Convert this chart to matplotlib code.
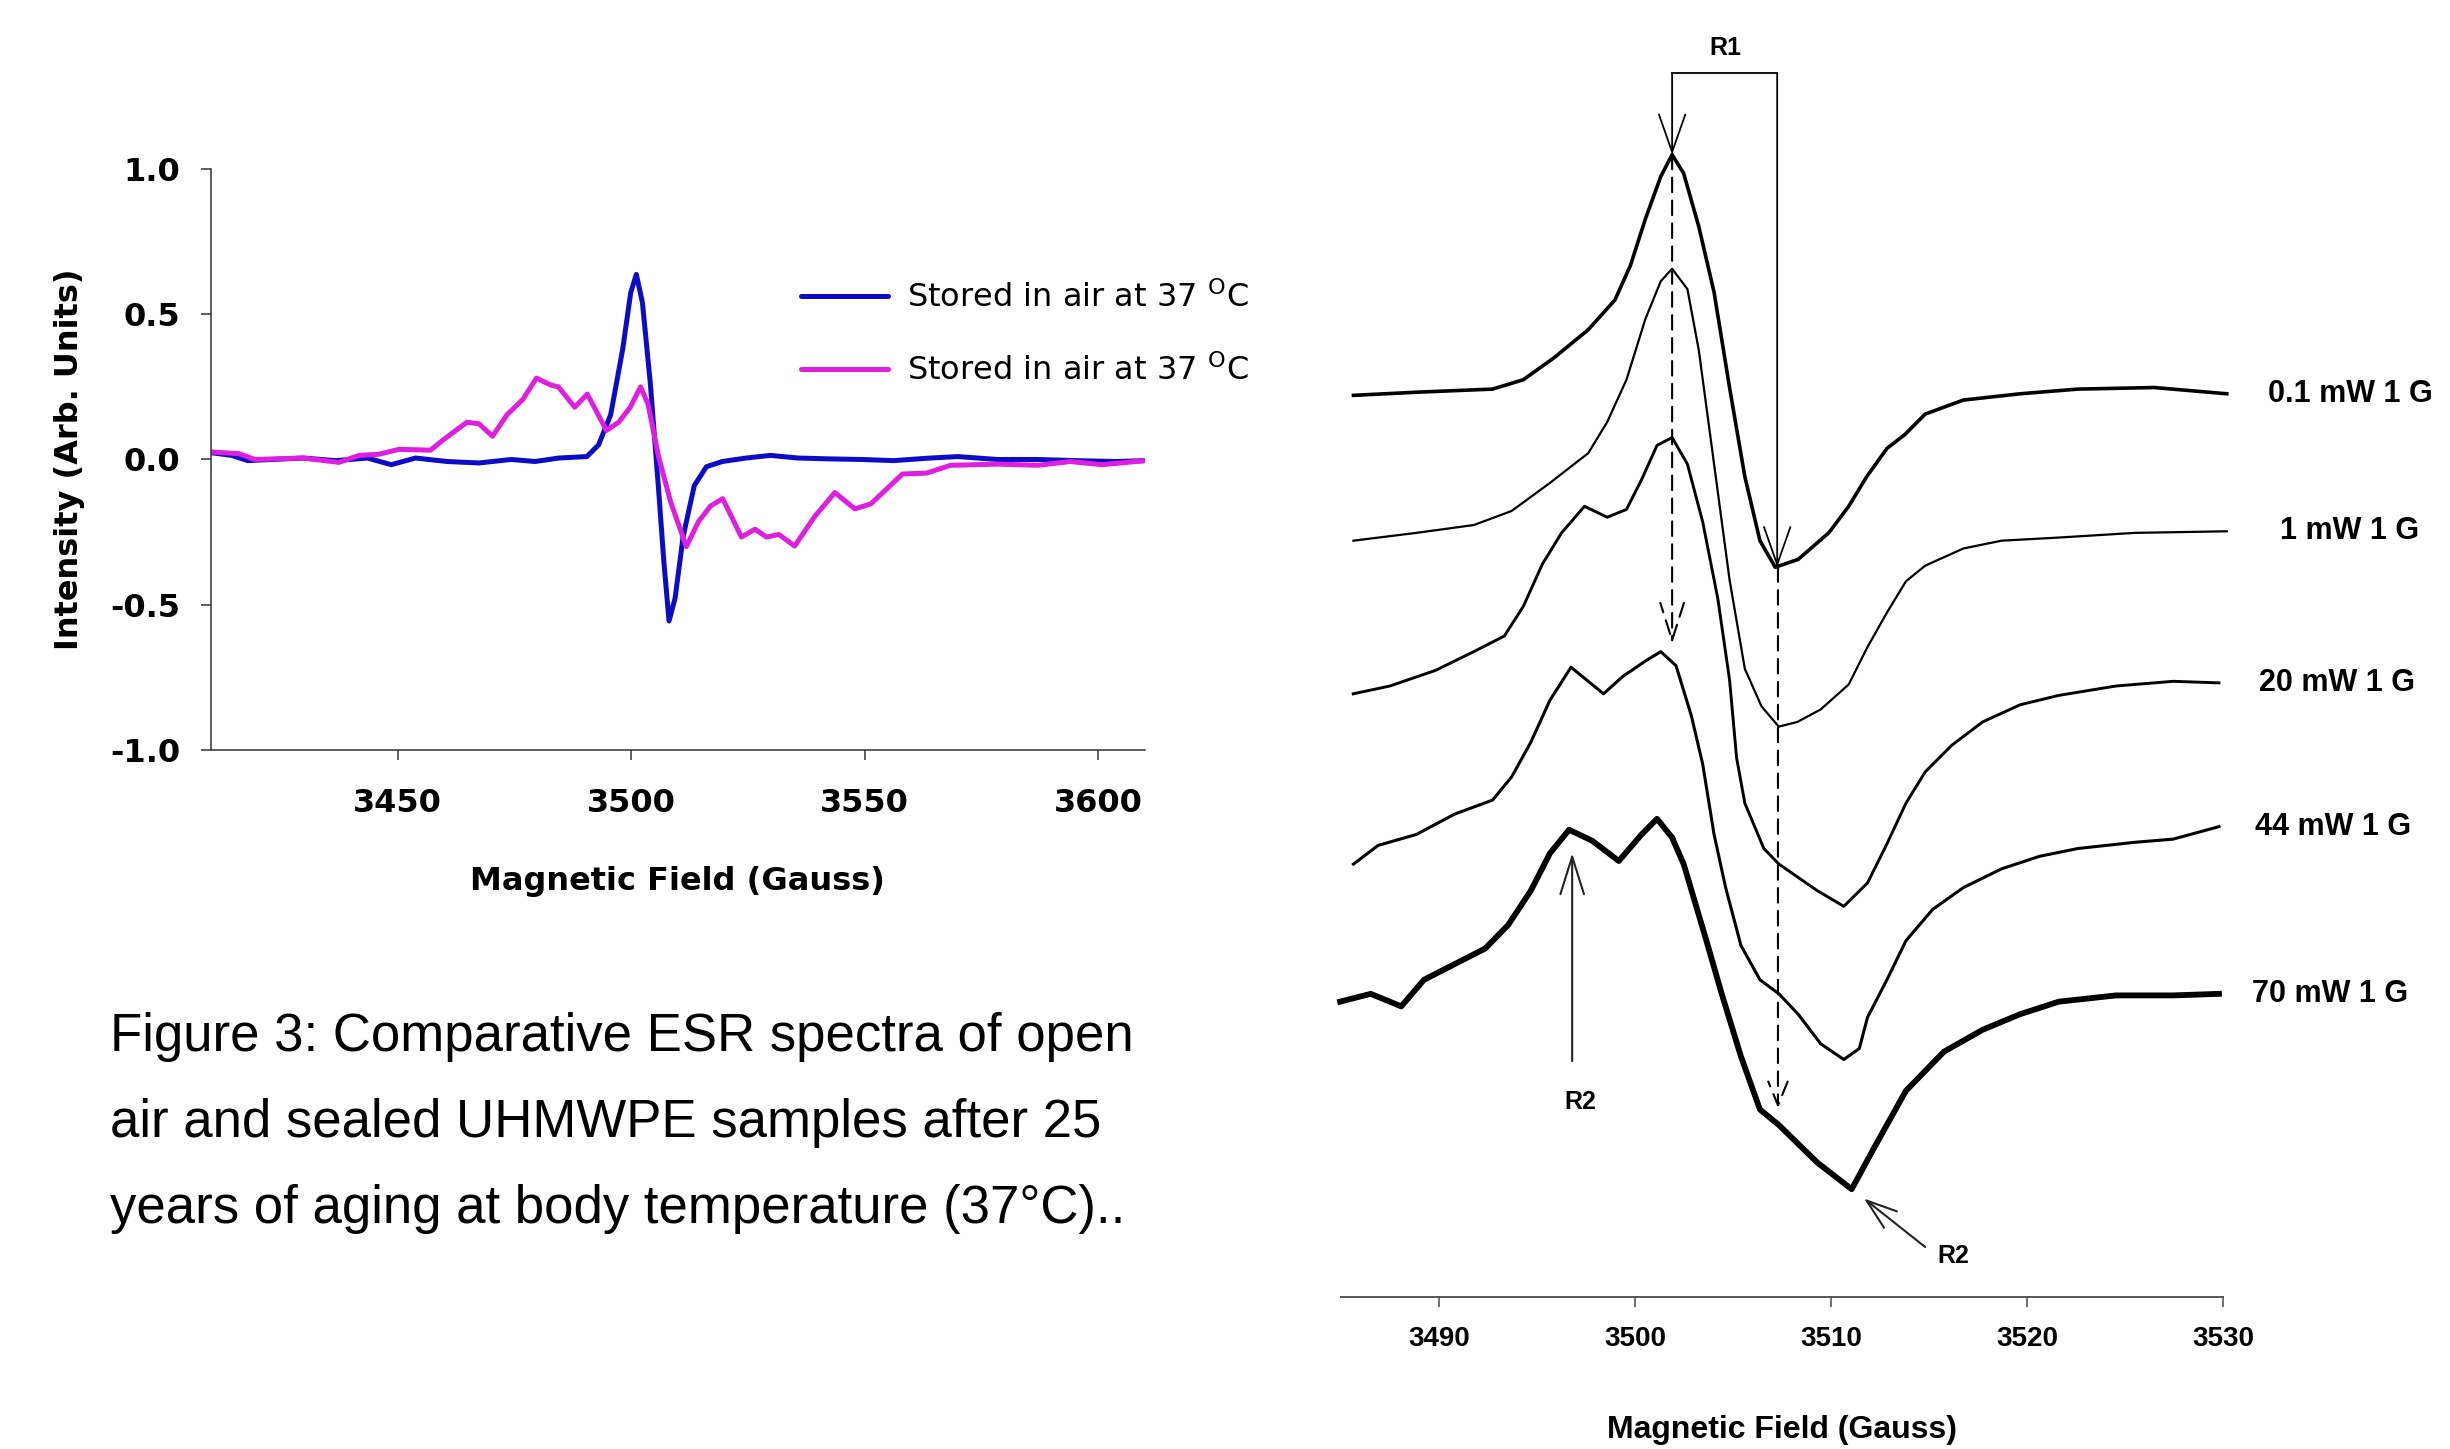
import matplotlib
matplotlib.use('Agg')
import matplotlib.pyplot as plt

plt.rcParams['axes.unicode_minus'] = False

# ---- left panel: open air vs sealed, field (G) / intensity (arb. units)
blue_field = [3410.2, 3414.5, 3417.9, 3423.0, 3429.8, 3436.7, 3443.5, 3448.6, 3453.8, 3460.6,
              3467.4, 3474.3, 3479.4, 3484.5, 3490.5, 3493.0, 3495.6, 3498.2, 3499.9, 3501.1,
              3502.4, 3504.1, 3505.8, 3507.0, 3508.1, 3509.4, 3511.1, 3513.5, 3516.1, 3519.5,
              3524.6, 3529.8, 3535.7, 3542.6, 3549.4, 3556.2, 3563.1, 3569.9, 3578.4, 3587.0,
              3595.5, 3604.0, 3610.0]
blue_int = [0.023, 0.014, -0.004, 0.0, 0.005, -0.004, 0.005, -0.018, 0.005, -0.007,
            -0.012, 0.0, -0.007, 0.005, 0.01, 0.05, 0.154, 0.382, 0.575, 0.637,
            0.54, 0.26, -0.09, -0.354, -0.556, -0.477, -0.267, -0.09, -0.025, -0.007,
            0.005, 0.014, 0.005, 0.002, 0.0, -0.004, 0.004, 0.01, 0.0, 0.0,
            -0.004, -0.007, -0.004]

mag_field = [3410.0, 3416.0, 3419.4, 3429.7, 3437.4, 3441.7, 3446.0, 3450.3, 3457.0, 3459.7,
             3464.8, 3467.4, 3470.3, 3473.4, 3476.8, 3479.7, 3482.8, 3484.4, 3487.9, 3490.6,
             3494.7, 3497.3, 3499.8, 3502.0, 3503.6, 3505.8, 3508.4, 3511.8, 3514.4, 3517.0,
             3519.6, 3523.6, 3526.5, 3529.0, 3531.6, 3535.0, 3539.3, 3543.6, 3547.9, 3551.3,
             3558.1, 3563.2, 3568.4, 3578.6, 3587.2, 3594.0, 3600.9, 3610.0]
mag_int = [0.026, 0.02, 0.0, 0.005, -0.01, 0.014, 0.018, 0.035, 0.032, 0.067,
           0.128, 0.123, 0.08, 0.154, 0.207, 0.28, 0.256, 0.25, 0.18, 0.225,
           0.10, 0.128, 0.18, 0.25, 0.19, 0.014, -0.144, -0.30, -0.214, -0.16,
           -0.135, -0.267, -0.24, -0.267, -0.258, -0.298, -0.196, -0.114, -0.17, -0.153,
           -0.05, -0.047, -0.02, -0.016, -0.02, -0.007, -0.018, -0.004]

legend_labels = [r'Stored in air at 37 $^{\mathrm{O}}$C', r'Stored in air at 37 $^{\mathrm{O}}$C']
left_xticks = [3450, 3500, 3550, 3600]
left_yticks = [-1.0, -0.5, 0.0, 0.5, 1.0]
left_yticklabels = ['-1.0', '-0.5', '0.0', '0.5', '1.0']

caption = ['Figure 3: Comparative ESR spectra of open',
           'air and sealed UHMWPE samples after 25',
           'years of aging at body temperature (37°C)..']

# ---- right panel: microwave power series (stacked, arb. units)
f_01 = [3485.64, 3488.85, 3492.74, 3494.31, 3495.87, 3497.62, 3498.98, 3499.77, 3500.54, 3501.32,
        3501.90, 3502.49, 3503.26, 3504.04, 3504.83, 3505.61, 3506.38, 3507.16, 3508.33, 3509.89,
        3510.91, 3511.83, 3512.86, 3513.78, 3514.81, 3516.76, 3519.66, 3522.60, 3526.50, 3530.20]
s_01 = [57.7, 57.9, 58.1, 58.7, 60.1, 61.9, 63.8, 66.0, 69.0, 71.7,
        73.1, 71.9, 68.5, 64.3, 58.2, 52.5, 48.4, 46.7, 47.2, 48.9,
        50.6, 52.5, 54.3, 55.2, 56.5, 57.4, 57.8, 58.1, 58.2, 57.8]

f_1 = [3485.64, 3488.85, 3491.78, 3493.71, 3495.67, 3497.62, 3498.59, 3499.57, 3500.54, 3501.32,
       3501.90, 3502.68, 3503.26, 3504.04, 3504.83, 3505.61, 3506.46, 3507.34, 3508.29, 3509.48,
       3510.91, 3511.87, 3512.86, 3513.83, 3514.81, 3516.76, 3518.71, 3521.63, 3525.52, 3530.20]
s_1 = [48.4, 48.9, 49.4, 50.3, 52.1, 54.0, 56.0, 58.7, 62.6, 65.0,
       65.8, 64.5, 60.6, 53.3, 45.9, 40.2, 37.8, 36.5, 36.8, 37.6,
       39.2, 41.6, 43.8, 45.8, 46.8, 47.9, 48.4, 48.6, 48.9, 49.0]

f_20 = [3485.63, 3487.50, 3489.83, 3491.78, 3493.34, 3494.31, 3495.28, 3496.26, 3497.43, 3498.59,
        3499.57, 3500.34, 3501.13, 3501.90, 3502.68, 3503.46, 3504.23, 3504.83, 3505.19, 3505.61,
        3506.58, 3507.35, 3509.31, 3510.66, 3511.87, 3512.86, 3513.83, 3514.81, 3516.16, 3517.74,
        3519.66, 3521.63, 3524.55, 3527.46, 3529.80]
s_20 = [38.6, 39.1, 40.1, 41.3, 42.3, 44.2, 46.9, 48.9, 50.6, 49.9,
        50.4, 52.3, 54.5, 55.0, 53.3, 49.6, 44.7, 39.5, 34.5, 31.6,
        28.7, 27.7, 26.0, 25.0, 26.5, 29.0, 31.6, 33.6, 35.3, 36.8,
        37.9, 38.5, 39.1, 39.4, 39.3]

f_44 = [3485.64, 3486.90, 3488.85, 3490.80, 3492.74, 3493.72, 3494.69, 3495.67, 3496.74, 3497.62,
        3498.40, 3499.37, 3500.54, 3501.32, 3502.10, 3502.88, 3503.46, 3504.04, 3504.63, 3505.41,
        3506.38, 3507.35, 3508.33, 3509.48, 3510.66, 3511.45, 3511.87, 3512.86, 3513.83, 3515.19,
        3516.76, 3518.71, 3520.64, 3522.60, 3525.52, 3527.46, 3529.80]
s_44 = [27.7, 28.9, 29.6, 30.9, 31.8, 33.3, 35.5, 38.2, 40.3, 39.4,
        38.6, 39.7, 40.7, 41.3, 40.4, 37.2, 34.1, 29.6, 26.2, 22.5,
        20.3, 19.4, 18.1, 16.2, 15.2, 15.9, 17.9, 20.3, 22.8, 24.8,
        26.2, 27.4, 28.2, 28.7, 29.1, 29.3, 30.1]

f_70 = [3484.96, 3486.52, 3488.08, 3489.24, 3490.80, 3492.36, 3493.53, 3494.69, 3495.67, 3496.64,
        3497.82, 3499.18, 3500.34, 3501.13, 3501.90, 3502.49, 3503.65, 3504.43, 3505.41, 3506.38,
        3507.35, 3509.31, 3511.06, 3512.23, 3513.83, 3515.77, 3517.74, 3519.66, 3521.63, 3524.55,
        3527.46, 3529.80]
s_70 = [18.9, 19.4, 18.6, 20.3, 21.3, 22.3, 23.8, 26.0, 28.4, 29.9,
        29.2, 27.9, 29.6, 30.6, 29.4, 27.7, 22.8, 19.4, 15.4, 12.0,
        11.0, 8.6, 6.9, 9.6, 13.2, 15.7, 17.1, 18.1, 18.9, 19.3,
        19.3, 19.4]

power_labels = ['0.1 mW 1 G', '1 mW 1 G', '20 mW 1 G', '44 mW 1 G', '70 mW 1 G']
right_xticks = [3490, 3500, 3510, 3520, 3530]

fig = plt.figure(figsize=(24.5, 14.49), dpi=100)

# ================= left panel
ax = fig.add_axes([0.0861, 0.4824, 0.3812, 0.4010])
ax.plot(blue_field, blue_int, color='#0c0cc8', lw=3.6, label=legend_labels[0], solid_capstyle='round')
ax.plot(mag_field, mag_int, color='#e01ee0', lw=3.6, label=legend_labels[1], solid_capstyle='round')
ax.set_xlim(3410, 3610)
ax.set_ylim(-1.0, 1.0)
for s in ['top', 'right']:
    ax.spines[s].set_visible(False)
for s in ['left', 'bottom']:
    ax.spines[s].set_color('#333333')
    ax.spines[s].set_linewidth(1.1)
ax.set_xticks(left_xticks, [str(t) for t in left_xticks], fontweight='bold', fontsize=23)
ax.set_yticks(left_yticks, left_yticklabels, fontweight='bold', fontsize=23)
ax.tick_params(axis='x', direction='out', length=7, width=1.1, color='#333333', pad=20)
ax.tick_params(axis='y', direction='out', length=7, width=1.1, color='#333333', pad=15)
ax.set_xlabel('Magnetic Field (Gauss)', fontsize=23, fontweight='bold')
ax.xaxis.set_label_coords(0.5, -0.2)
ax.set_ylabel('Intensity (Arb. Units)', fontsize=23, fontweight='bold')
ax.yaxis.set_label_coords(-0.135, 0.5)
ax.legend(loc='center left', bbox_to_anchor=(0.3271, 0.7694), bbox_transform=fig.transFigure,
          frameon=False, fontsize=23, handlelength=2.7, handletextpad=0.6,
          labelspacing=1.25, borderpad=0, borderaxespad=0)

# no narrow face installed, so the caption is set a bit smaller to keep the line width
for i, line in enumerate(caption):
    fig.text(0.0447, 1 - (1051 + i * 86) / 1449, line, fontsize=38, va='baseline',
             family=['Liberation Sans Narrow', 'Liberation Sans'])

# ================= right panel
bold_sans = dict(family='Liberation Sans', fontweight='bold')
ax2 = fig.add_axes([0.5473, 0.1049, 0.36, 0.8951])
traces = [(f_01, s_01, 2.6), (f_1, s_1, 1.6), (f_20, s_20, 2.1), (f_44, s_44, 2.2), (f_70, s_70, 4.2)]
label_x = [3532.3, 3532.9, 3531.85, 3531.65, 3531.5]
for (fx, sy, lw), lab, lx in zip(traces, power_labels, label_x):
    ax2.plot(fx, sy, color='black', lw=lw, clip_on=False)
    ax2.text(lx, sy[-1], lab, fontsize=22, va='center', ha='left', clip_on=False, **bold_sans)

ax2.set_xlim(3485, 3530)
ax2.set_ylim(0, 83)
for s in ['top', 'right', 'left']:
    ax2.spines[s].set_visible(False)
ax2.spines['bottom'].set_color('#555555')
ax2.spines['bottom'].set_linewidth(1.4)
ax2.set_yticks([])
ax2.set_xticks(right_xticks, [str(t) for t in right_xticks], fontsize=20, **bold_sans)
ax2.tick_params(axis='x', direction='out', length=7, width=1.2, color='#555555', pad=14)
ax2.set_xlabel('Magnetic Field (Gauss)', fontsize=23, **bold_sans)
ax2.xaxis.set_label_coords(0.5, -0.091)

# R1 bracket between peak and trough of the 0.1 mW trace
ax2.plot([3501.9, 3507.26], [78.3, 78.3], color='black', lw=1.3, clip_on=False)
ax2.annotate('', xy=(3501.9, 73.1), xytext=(3501.9, 78.3),
             arrowprops=dict(arrowstyle='->,head_length=2.7,head_width=0.95', color='black',
                             lw=1.3, shrinkA=0, shrinkB=0))
ax2.annotate('', xy=(3507.26, 46.7), xytext=(3507.26, 78.3),
             arrowprops=dict(arrowstyle='->,head_length=2.7,head_width=0.95', color='black',
                             lw=1.3, shrinkA=0, shrinkB=0))
ax2.text(3504.6, 79.9, 'R1', fontsize=18, ha='center', va='center', **bold_sans)

# dashed guides
ax2.annotate('', xy=(3501.9, 41.8), xytext=(3501.9, 73.1),
             arrowprops=dict(arrowstyle='->,head_length=2.7,head_width=0.85', color='black',
                             lw=1.5, linestyle=(0, (7, 4)), shrinkA=0, shrinkB=0))
ax2.annotate('', xy=(3507.3, 12.1), xytext=(3507.3, 46.7),
             arrowprops=dict(arrowstyle='->,head_length=1.7,head_width=0.7', color='black',
                             lw=1.5, linestyle=(0, (7, 4)), shrinkA=0, shrinkB=0))

# R2 markers
ax2.annotate('', xy=(3496.8, 28.4), xytext=(3496.8, 15.1),
             arrowprops=dict(arrowstyle='->,head_length=2.7,head_width=0.85', color='#222222',
                             lw=1.5, shrinkA=0, shrinkB=0))
ax2.text(3497.2, 12.5, 'R2', fontsize=18, ha='center', va='center', **bold_sans)
ax2.annotate('', xy=(3511.69, 6.3), xytext=(3514.81, 3.2),
             arrowprops=dict(arrowstyle='->,head_length=2.2,head_width=0.75', color='#222222',
                             lw=1.5, shrinkA=0, shrinkB=0))
ax2.text(3516.24, 2.6, 'R2', fontsize=18, ha='center', va='center', **bold_sans)

fig.savefig('out.png', dpi=100, facecolor='white')
